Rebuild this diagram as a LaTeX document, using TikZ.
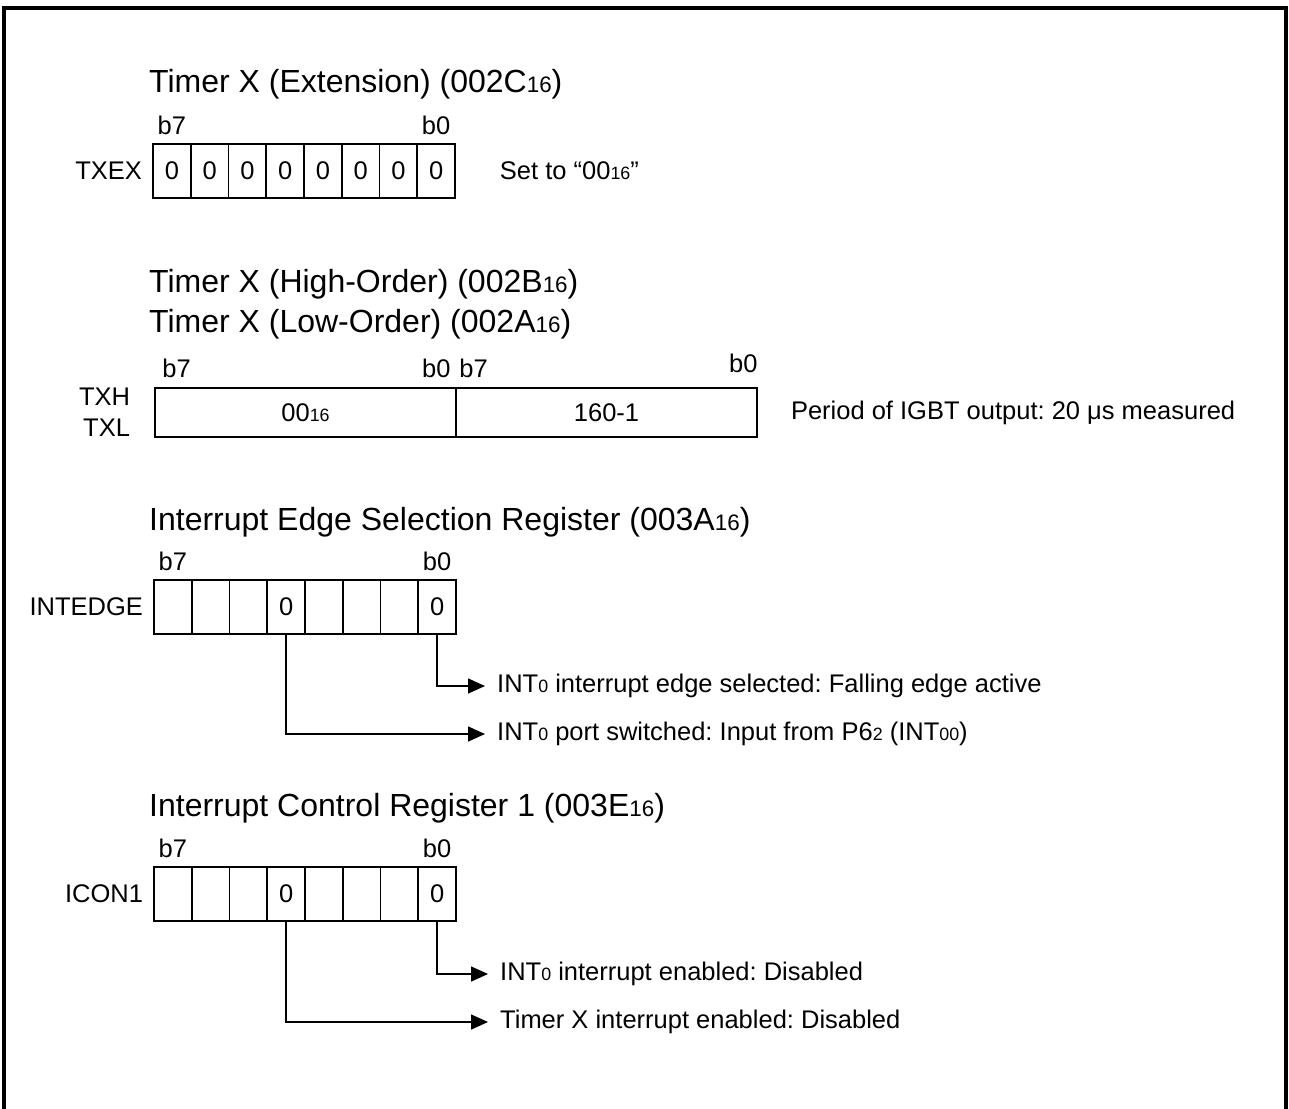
\documentclass[tikz,border=0pt]{standalone}
\usepackage{fontspec}
\usepackage{graphicx}
\setmainfont{Liberation Sans}
\usetikzlibrary{arrows.meta,positioning}
\frenchspacing

% kleine Indizes (16, 0, 2 ...)
\newcommand{\klein}[1]{\scalebox{0.7}{#1}}

\tikzset{
  bit/.style={draw, line width=1.6pt, minimum width=37.75pt, minimum height=54pt,
              inner sep=0pt, font=\fontsize{25.5}{31}\selectfont},
  lab/.style={font=\fontsize{25.5}{31}\selectfont, inner sep=0pt},
  titel/.style={font=\fontsize{32}{38}\selectfont, anchor=west, inner sep=0pt},
  pfeil/.style={line width=1.6pt, shorten >=12pt, -{Triangle[length=17pt,width=15pt]}},
}

\begin{document}
\begin{tikzpicture}[x=1pt, y=-1pt]
    \useasboundingbox (0,0) rectangle (1289,1108);

    % Rahmen
    \draw[line width=4pt] (4,1112) -- (4,8) -- (1286,8) -- (1286,1112);

    % Timer X (Extension)
    \node[titel] (t1) at (149,84) {Timer X (Extension) (002C\klein{16})};
    \foreach \b in {0,...,7}
        \node[bit] (x\b) at ({436.1-\b*37.75},171) {0};
    \node[lab, above=8pt of x7] (x7l) {b7};
    \node[lab, above=8pt of x0] (x0l) {b0};
    \node[lab, left=10pt of x7] (txex) {TXEX};
    \node[lab, right=44pt of x0] (txexv) {Set to “00\klein{16}”};

    % Timer X (High-Order / Low-Order)
    \node[titel] (t2) at (149,284) {Timer X (High-Order) (002B\klein{16})};
    \node[titel] (t3) at (149,324) {Timer X (Low-Order) (002A\klein{16})};
    \node[draw, line width=1.6pt, minimum width=301pt, minimum height=49pt, lab] (txh) at (305.5,412.5) {00\klein{16}};
    \node[draw, line width=1.6pt, minimum width=301pt, minimum height=49pt, lab] (txl) at (606.5,412.5) {160-1};
    \node[lab, anchor=south west] (h7) at ([xshift=8pt, yshift=9pt]txh.north west) {b7};
    \node[lab, anchor=south east] (h0) at ([xshift=-6pt, yshift=9pt]txh.north east) {b0};
    \node[lab, anchor=south west] (l7) at ([xshift=4pt, yshift=9pt]txl.north west) {b7};
    \node[lab, anchor=south east] (l0) at ([xshift=0pt, yshift=14pt]txl.north east) {b0};
    \node[lab, anchor=east] (txhl) at ([xshift=-24pt, yshift=15.5pt]txh.west) {TXH};
    \node[lab, anchor=east] (txll) at ([xshift=-24pt, yshift=-15.5pt]txh.west) {TXL};
    \node[lab, right=33pt of txl] (period) {Period of IGBT output: 20 μs measured};

    % Interrupt Edge Selection Register
    \node[titel] (t4) at (149,522) {Interrupt Edge Selection Register (003A\klein{16})};
    \foreach \b/\v in {7/,6/,5/,4/0,3/,2/,1/,0/0}
        \node[bit] (e\b) at ({437.1-\b*37.75},607) {\v};
    \node[lab, above=8pt of e7] (e7l) {b7};
    \node[lab, above=8pt of e0] (e0l) {b0};
    \node[lab, left=10pt of e7] (intedge) {INTEDGE};
    \node[lab, anchor=west] (e0t) at (497,686) {INT\klein{0} interrupt edge selected: Falling edge active};
    \node[lab, anchor=west] (e4t) at (497,734) {INT\klein{0} port switched: Input from P6\klein{2} (INT\klein{00})};
    \draw[pfeil] (e0.south) |- (e0t.west);
    \draw[pfeil] (e4.south) |- (e4t.west);

    % Interrupt Control Register 1
    \node[titel] (t5) at (149,808) {Interrupt Control Register 1 (003E\klein{16})};
    \foreach \b/\v in {7/,6/,5/,4/0,3/,2/,1/,0/0}
        \node[bit] (c\b) at ({437.1-\b*37.75},894) {\v};
    \node[lab, above=8pt of c7] (c7l) {b7};
    \node[lab, above=8pt of c0] (c0l) {b0};
    \node[lab, left=10pt of c7] (icon) {ICON1};
    \node[lab, anchor=west] (c0t) at (500,974) {INT\klein{0} interrupt enabled: Disabled};
    \node[lab, anchor=west] (c4t) at (500,1022) {Timer X interrupt enabled: Disabled};
    \draw[pfeil] (c0.south) |- (c0t.west);
    \draw[pfeil] (c4.south) |- (c4t.west);

\end{tikzpicture}
\end{document}
